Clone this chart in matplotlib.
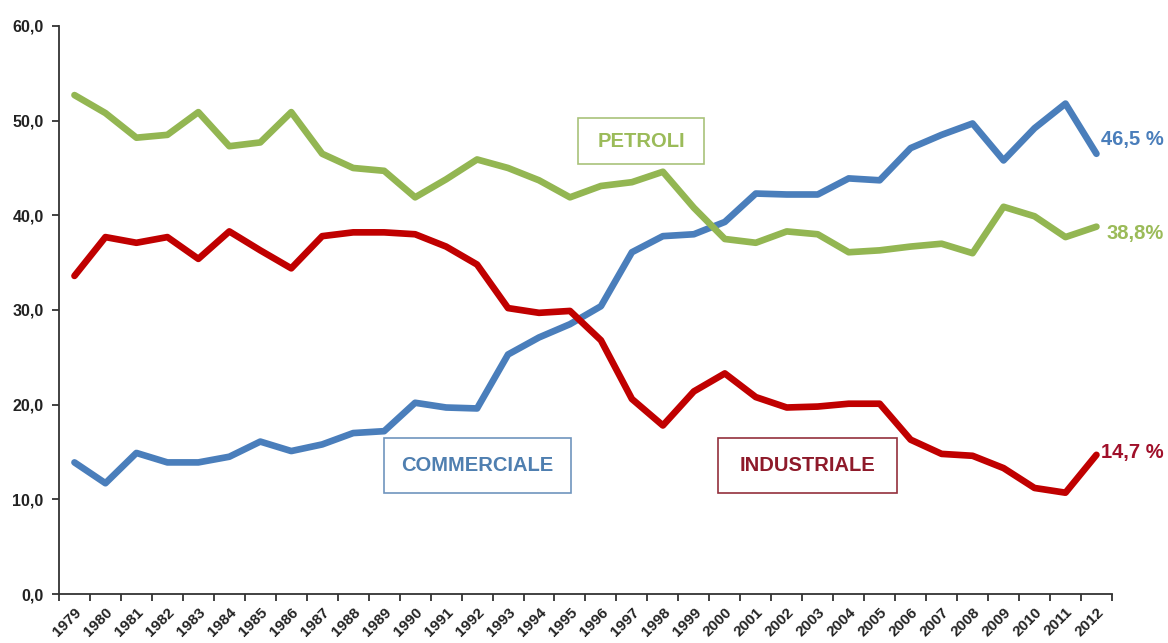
import numpy as np
import matplotlib
matplotlib.use("Agg")
import matplotlib.pyplot as plt
from matplotlib.patches import Rectangle

plt.rcParams['font.family'] = ['Liberation Sans', 'DejaVu Sans']

anni = [str(a) for a in range(1979, 2013)]

petroli = [52.7, 50.8, 48.2, 48.5, 50.9, 47.3, 47.7, 50.9, 46.5, 45.0,
           44.7, 41.9, 43.8, 45.9, 45.0, 43.7, 41.9, 43.1, 43.5, 44.6,
           40.8, 37.5, 37.1, 38.3, 38.0, 36.1, 36.3, 36.7, 37.0, 36.0,
           40.9, 39.9, 37.7, 38.8]

commerciale = [13.9, 11.7, 14.9, 13.9, 13.9, 14.5, 16.1, 15.1, 15.8, 17.0,
               17.2, 20.2, 19.7, 19.6, 25.3, 27.1, 28.5, 30.4, 36.1, 37.8,
               38.0, 39.3, 42.3, 42.2, 42.2, 43.9, 43.7, 47.1, 48.5, 49.7,
               45.8, 49.2, 51.8, 46.5]

industriale = [33.6, 37.7, 37.1, 37.7, 35.4, 38.3, 36.3, 34.4, 37.8, 38.2,
               38.2, 38.0, 36.7, 34.8, 30.2, 29.7, 29.9, 26.8, 20.6, 17.8,
               21.4, 23.3, 20.8, 19.7, 19.8, 20.1, 20.1, 16.3, 14.8, 14.6,
               13.3, 11.2, 10.7, 14.7]

c_verde = '#93B652'
c_blu = '#4A7EBB'
c_rosso = '#C00000'

fig = plt.figure(figsize=(11.68, 6.43), dpi=100)
ax = fig.add_axes([0.0505, 0.0762, 0.9015, 0.8834])

x = np.arange(len(anni))
kw = dict(lw=4.8, solid_joinstyle='round', solid_capstyle='round')
ax.plot(x, commerciale, color=c_blu, **kw)
ax.plot(x, petroli, color=c_verde, **kw)
ax.plot(x, industriale, color=c_rosso, **kw)

ax.set_xlim(-0.5, len(anni) - 0.5)
ax.set_ylim(0, 60)

# assi in stile Excel: tacche ai bordi delle categorie, etichette al centro
ax.set_xticks(np.arange(len(anni) + 1) - 0.5)
ax.set_xticklabels([])
ax.set_xticks(x, minor=True)
ax.set_xticklabels(anni, minor=True, rotation=45, ha='right', va='top',
                   rotation_mode='anchor', fontsize=11, fontweight='bold',
                   color='#222222')
ax.tick_params(axis='x', which='major', length=5, width=1.3, color='#333333')
ax.tick_params(axis='x', which='minor', length=0, pad=8)

ax.set_yticks(np.arange(0, 61, 10))
ax.set_yticklabels([f"{v:.1f}".replace('.', ',') for v in range(0, 61, 10)],
                   fontsize=11.5, fontweight='bold', color='#222222')
ax.tick_params(axis='y', length=5, width=1.3, color='#333333', pad=6)

for s in ['top', 'right']:
    ax.spines[s].set_visible(False)
for s in ['left', 'bottom']:
    ax.spines[s].set_color('#333333')
    ax.spines[s].set_linewidth(1.3)

# etichette delle serie in riquadri
riquadri = [
    ('PETROLI', (0.493, 0.757, 0.120, 0.081), '#9BBB59', '#A9C27A'),
    ('COMMERCIALE', (0.309, 0.178, 0.177, 0.097), '#4F7FB0', '#7095BE'),
    ('INDUSTRIALE', (0.626, 0.178, 0.170, 0.097), '#8E1A2A', '#94303C'),
]
for testo, (x0, y0, w, h), col_t, col_b in riquadri:
    ax.add_patch(Rectangle((x0, y0), w, h, transform=ax.transAxes,
                           fill=False, edgecolor=col_b, lw=1.2))
    ax.text(x0 + w / 2, y0 + h / 2, testo, transform=ax.transAxes,
            ha='center', va='center', fontsize=14.5, fontweight='bold',
            color=col_t)

# valori finali 2012
ultimo = len(anni) - 1
finali = [
    (commerciale[-1], f"{commerciale[-1]:.1f} %".replace('.', ','), c_blu, (3, 10)),
    (petroli[-1], f"{petroli[-1]:.1f}%".replace('.', ','), '#9BBB59', (7, -5)),
    (industriale[-1], f"{industriale[-1]:.1f} %".replace('.', ','), '#A0102A', (3, 2)),
]
for v, lab, col, off in finali:
    ax.annotate(lab, xy=(ultimo, v), xytext=off, textcoords='offset points',
                ha='left', va='center', fontsize=14.5, fontweight='bold',
                color=col, annotation_clip=False)

fig.savefig('out.png', dpi=100)
